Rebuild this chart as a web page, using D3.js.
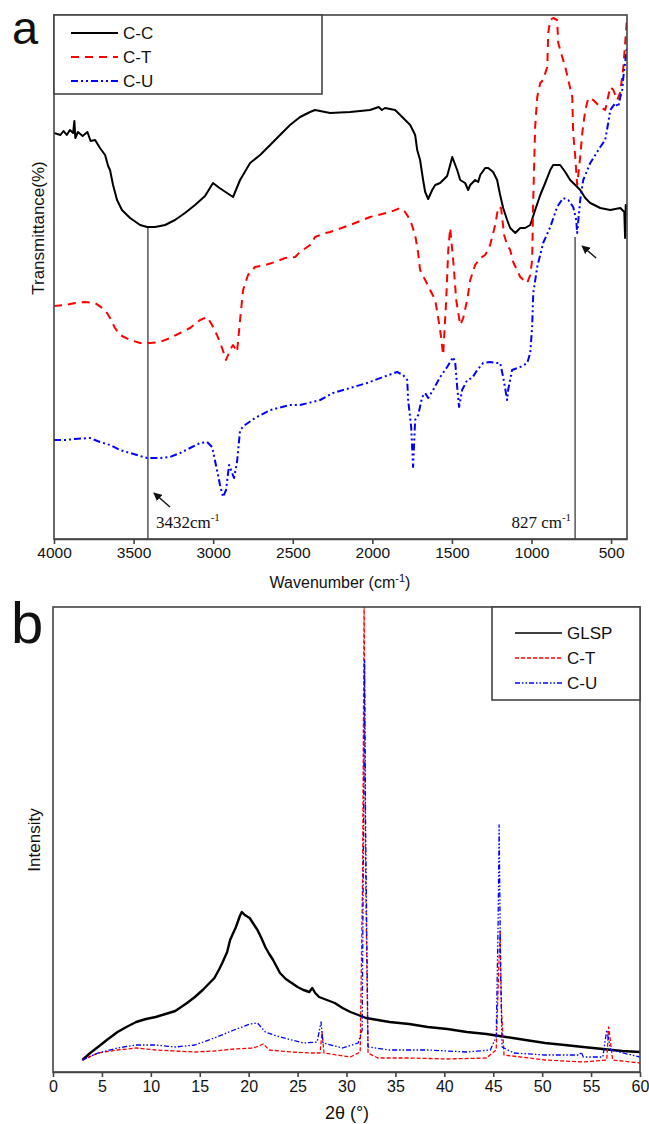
<!DOCTYPE html>
<html><head><meta charset="utf-8">
<script src="https://cdn.jsdelivr.net/npm/d3@7"></script>
<style>
html,body{margin:0;padding:0;background:#fff;}
svg{display:block;}
text{font-family:"Liberation Sans",Arial,sans-serif;fill:#111;}
.serif{font-family:"Liberation Serif","Times New Roman",serif;}
</style></head><body>
<svg id="chart" width="649" height="1124"></svg>
<script>
// ---------------- Panel a: FTIR ----------------
const ftirTicks = [4000,3500,3000,2500,2000,1500,1000,500];
const ftirCC = [[4000,81.2],[3960,80.8],[3940,81.6],[3920,80.8],[3900,81.8],[3880,81.2],[3872,83.6],[3866,80.2],[3850,81.4],[3820,80.6],[3790,81.4],[3770,79.6],[3742,79.8],[3711,78.2],[3679,76.8],[3660,74.6],[3648,73.8],[3629,70.8],[3604,67.8],[3573,65.8],[3522,64.2],[3459,62.8],[3415,62.4],[3365,62.4],[3302,62.8],[3240,63.8],[3177,65.2],[3114,66.8],[3051,68.6],[3001,71.2],[2960,70.2],[2875,68.4],[2831,71.8],[2768,75.2],[2705,76.8],[2642,78.8],[2580,80.8],[2517,82.8],[2454,84.4],[2391,85.4],[2360,85.8],[2265,85.2],[2140,85.4],[2014,85.8],[1960,86.4],[1940,85.8],[1920,86.2],[1857,85.8],[1825,84.8],[1762,82.8],[1731,80.8],[1718,77.8],[1700,75.8],[1681,71.8],[1668,69.4],[1649,68.0],[1624,69.8],[1605,70.8],[1574,71.2],[1555,71.8],[1530,72.6],[1511,74.8],[1498,76.4],[1467,73.8],[1448,71.8],[1417,71.2],[1398,69.8],[1385,70.8],[1354,71.8],[1335,71.4],[1322,72.8],[1291,74.2],[1272,74.2],[1241,73.4],[1216,71.8],[1197,68.8],[1178,66.2],[1153,63.8],[1134,62.2],[1102,61.2],[1071,62.2],[1040,62.2],[1008,62.8],[977,65.8],[945,68.8],[914,71.2],[882,73.8],[864,74.8],[820,74.8],[788,73.4],[757,71.8],[725,70.8],[694,69.8],[662,68.2],[631,67.2],[568,66.2],[505,65.8],[442,66.2],[417,65.4],[412,60.2],[408,66.8],[402,65.8]];
const ftirCT = [[4000,46.6],[3931,46.8],[3868,47.2],[3805,47.4],[3742,47.2],[3679,45.8],[3648,44.2],[3617,42.2],[3585,40.8],[3522,39.8],[3459,39.2],[3397,39.2],[3334,39.4],[3271,40.2],[3208,41.2],[3145,42.2],[3082,43.8],[3038,44.4],[3007,42.8],[2976,40.8],[2944,38.2],[2919,35.8],[2894,37.8],[2875,38.8],[2850,37.4],[2831,43.8],[2812,49.8],[2781,52.8],[2737,54.4],[2674,54.8],[2611,55.4],[2548,56.2],[2485,56.4],[2454,57.4],[2391,58.8],[2360,60.4],[2297,61.2],[2265,61.4],[2140,62.8],[2014,64.4],[1888,65.4],[1825,66.2],[1794,65.4],[1762,63.8],[1731,60.8],[1712,57.2],[1700,53.8],[1668,51.8],[1637,49.8],[1605,47.8],[1574,41.8],[1555,36.8],[1536,47.8],[1523,57.8],[1511,62.2],[1492,55.8],[1473,47.8],[1448,42.8],[1429,44.2],[1404,47.8],[1385,51.8],[1354,54.8],[1322,56.2],[1291,56.8],[1260,58.8],[1228,62.8],[1209,66.4],[1191,66.2],[1172,60.8],[1153,58.8],[1134,57.8],[1115,55.4],[1071,52.4],[1027,51.2],[1008,52.8],[996,55.8],[989,67.8],[977,82.4],[964,88.4],[945,91.2],[927,91.8],[901,94.4],[895,101.2],[882,103.8],[864,104.2],[839,103.8],[832,99.2],[807,96.4],[788,94.4],[769,91.8],[744,88.4],[738,81.2],[725,76.4],[713,70.8],[694,76.4],[681,81.2],[662,85.8],[643,88.2],[612,87.8],[568,86.4],[537,85.8],[505,90.4],[486,89.8],[461,87.8],[442,89.4],[423,94.4],[410,99.8],[401,103.8]];
const ftirCU = [[4000,19.8],[3931,19.8],[3868,20.0],[3774,20.2],[3711,19.4],[3648,18.8],[3585,17.8],[3522,17.2],[3459,16.6],[3415,16.2],[3334,16.2],[3271,16.4],[3208,17.2],[3145,18.2],[3082,19.2],[3038,19.4],[3007,18.4],[2976,13.8],[2957,10.8],[2938,8.4],[2919,9.8],[2900,14.8],[2888,13.8],[2869,12.2],[2850,15.4],[2831,21.8],[2800,22.8],[2737,24.2],[2642,25.8],[2517,26.8],[2454,26.8],[2328,27.8],[2247,29.2],[2140,30.2],[2033,31.2],[1932,32.4],[1844,33.4],[1807,32.8],[1781,31.8],[1775,27.8],[1756,22.4],[1750,18.4],[1744,14.4],[1731,23.8],[1712,24.8],[1687,28.4],[1668,29.2],[1649,28.2],[1618,29.8],[1574,32.4],[1530,34.4],[1511,35.4],[1492,36.4],[1479,35.2],[1467,30.4],[1455,26.4],[1436,29.8],[1404,31.8],[1373,32.2],[1341,33.8],[1304,35.2],[1260,35.4],[1216,35.2],[1197,35.2],[1178,32.4],[1153,27.8],[1147,29.8],[1122,33.8],[1071,34.4],[1027,35.2],[1008,37.2],[996,42.4],[989,49.2],[964,54.4],[927,59.2],[882,62.4],[839,66.4],[801,68.2],[769,67.8],[738,66.4],[719,63.8],[713,61.2],[694,67.8],[675,71.8],[631,75.2],[568,78.4],[537,79.8],[518,83.2],[505,85.8],[474,87.2],[455,86.4],[442,88.4],[430,89.8],[423,92.4],[410,95.8],[401,98.4]];
const ftirNames = ["C-C","C-T","C-U"];
const markLines = [{w:3410, top:62.4, label:"3432cm"},{w:726, top:60.4, label:"827 cm"}];
const arrowsA = [{from:[3271,6.4], to:[3372,9.2]},{from:[594,56.2], to:[682,58.6]}];

// ---------------- Panel b: XRD ----------------
const xrdTicks = [0,5,10,15,20,25,30,35,40,45,50,55,60];
const xrdGLSP = [[3,2.4],[3.8,3.8],[4.6,5.0],[5.5,6.4],[6.6,8.0],[7.5,9.0],[8.5,10.0],[9.5,10.6],[10.5,11.0],[11.5,11.6],[12.5,12.2],[13.7,13.8],[14.5,15.0],[15.3,16.4],[16.5,18.8],[17.0,20.6],[17.3,21.8],[17.8,24.0],[18.1,26.4],[18.7,29.0],[19.1,31.2],[19.3,32.0],[19.6,31.4],[20.1,30.8],[20.5,29.6],[20.9,28.4],[21.3,26.8],[21.7,25.0],[22.1,23.6],[22.5,22.4],[23.2,19.8],[23.8,18.6],[24.4,17.8],[25.0,17.0],[25.6,16.4],[26.2,16.0],[26.5,16.8],[26.8,15.8],[27.2,15.0],[28.0,14.4],[28.8,13.8],[29.6,12.8],[30.4,12.0],[31.2,11.4],[32.0,10.8],[33.2,10.4],[34.4,10.0],[36.4,9.6],[38.3,9.0],[40.3,8.6],[42.3,8.0],[44.3,7.6],[46.3,7.0],[48.3,6.4],[50.3,5.8],[52.3,5.4],[54.2,5.0],[56.2,4.6],[58.2,4.2],[60,4.0]];
const xrdCT = [[3,2.4],[4.6,3.8],[6.6,4.4],[8.5,4.8],[10.5,4.4],[14.5,4.0],[16.5,4.2],[18.5,4.6],[20.5,4.8],[21.5,5.6],[22.1,4.4],[24.4,4.0],[26.4,3.8],[27.3,3.8],[27.5,8.0],[27.7,3.8],[30.4,3.0],[31.4,4.0],[31.65,40],[31.8,95],[31.95,40],[32.2,3.8],[33.2,2.8],[36.4,2.8],[40.3,2.6],[44.3,2.8],[45.3,4.4],[45.55,20],[45.7,28.4],[45.85,12],[46.1,3.4],[50.3,2.4],[54.2,2.0],[56.6,2.4],[56.8,9.0],[57.2,2.4],[60,1.8]];
const xrdCU = [[3,2.4],[4.6,3.8],[6.6,4.8],[8.5,5.4],[10.5,5.4],[12.5,5.0],[14.5,5.4],[16.5,6.8],[18.5,8.4],[20.1,9.6],[20.9,9.8],[21.7,8.0],[23.2,7.0],[25.6,5.8],[27.0,6.0],[27.4,10.0],[27.6,5.8],[29.6,4.8],[31.2,5.8],[31.6,8.4],[31.75,50],[31.85,82.4],[31.95,50],[32.2,5.0],[34.4,4.4],[38.3,4.4],[42.3,4.0],[44.7,4.4],[45.3,7.0],[45.5,30],[45.6,49.4],[45.75,20],[45.9,5.0],[47.1,3.8],[50.3,3.4],[53.8,3.4],[54.0,4.0],[54.2,3.0],[56.2,3.0],[56.6,8.4],[57.0,4.4],[60,3.0]];
const xrdNames = ["GLSP","C-T","C-U"];

const colors = ["#000000","#ff0000","#0000ff"];
const dashA = [null,"8,6","7,3,2,3,2,3"];
const dashB = [null,"4,2","5,2,1.5,2,1.5,2"];

const svg = d3.select("#chart");
const defs = svg.append("defs");
defs.append("marker").attr("id","ah").attr("viewBox","0 0 10 10").attr("refX",9).attr("refY",5)
  .attr("markerWidth",6).attr("markerHeight",6).attr("orient","auto")
  .append("path").attr("d","M0,0 L10,5 L0,10 z").attr("fill","#111");

// ===== Panel a =====
const xA = d3.scaleLinear().domain([4000,400]).range([54,627]);
const yA = d3.scaleLinear().domain([0,104.8]).range([539,15]);
defs.append("clipPath").attr("id","clipA").append("rect").attr("x",54).attr("y",15).attr("width",573).attr("height",524);

const gA = svg.append("g");
const lineA = d3.line().x(d=>xA(d[0])).y(d=>yA(d[1]));
markLines.forEach(m=>{
  gA.append("line").attr("x1",xA(m.w)).attr("x2",xA(m.w)).attr("y1",yA(0)).attr("y2",yA(m.top))
    .attr("stroke","#555").attr("stroke-width",1.5);
});
const seriesA = [ftirCC, ftirCT, ftirCU];
const cA = gA.append("g").attr("clip-path","url(#clipA)");
seriesA.forEach((s,i)=>{
  cA.append("path").datum(s).attr("d",lineA).attr("fill","none").attr("stroke",colors[i])
    .attr("stroke-width",2).attr("stroke-dasharray",dashA[i]).attr("stroke-linejoin","round");
});
gA.append("rect").attr("x",54).attr("y",15).attr("width",573).attr("height",524)
  .attr("fill","none").attr("stroke","#444").attr("stroke-width",1.6);
const axA = gA.append("g").attr("transform","translate(0,539)")
  .call(d3.axisBottom(xA).tickValues(ftirTicks).tickFormat(d3.format("d")).tickSize(5).tickSizeOuter(0).tickPadding(3));
axA.select(".domain").attr("stroke","#444").attr("stroke-width",1.6);
axA.selectAll(".tick line").attr("stroke","#444").attr("stroke-width",1.6);
axA.selectAll(".tick text").style("font-size","15.5px").style("font-family","Liberation Sans, Arial, sans-serif").attr("fill","#111");
const tA = gA.append("text").attr("x",340).attr("y",588).attr("text-anchor","middle").style("font-size","16px");
tA.append("tspan").text("Wavenumber (cm");
tA.append("tspan").text("-1").attr("dy",-6).style("font-size","11px");
tA.append("tspan").text(")").attr("dy",6);
gA.append("text").attr("transform","translate(44,228) rotate(-90)").attr("text-anchor","middle")
  .style("font-size","17px").text("Transmittance(%)");
const l1 = gA.append("text").attr("class","serif").attr("x",xA(markLines[0].w)+8).attr("y",528).style("font-size","17px");
l1.append("tspan").text(markLines[0].label);
l1.append("tspan").text("-1").attr("dy",-7).style("font-size","11px");
const l2 = gA.append("text").attr("class","serif").attr("x",xA(markLines[1].w)-4).attr("y",528).attr("text-anchor","end").style("font-size","17px");
l2.append("tspan").text(markLines[1].label);
l2.append("tspan").text("-1").attr("dy",-7).style("font-size","11px");
arrowsA.forEach(a=>{
  gA.append("line").attr("x1",xA(a.from[0])).attr("y1",yA(a.from[1])).attr("x2",xA(a.to[0])).attr("y2",yA(a.to[1]))
    .attr("stroke","#111").attr("stroke-width",1.4).attr("marker-end","url(#ah)");
});
gA.append("rect").attr("x",54).attr("y",15).attr("width",268).attr("height",79).attr("fill","#fff").attr("stroke","#444").attr("stroke-width",1.6);
ftirNames.forEach((n,i)=>{
  const yy = 33 + i*24;
  gA.append("line").attr("x1",71).attr("x2",118).attr("y1",yy).attr("y2",yy).attr("stroke",colors[i])
    .attr("stroke-width",2).attr("stroke-dasharray",dashA[i]);
  gA.append("text").attr("x",123).attr("y",yy+6).style("font-size","17px").text(n);
});
svg.append("text").attr("x",12).attr("y",44).style("font-size","47px").text("a");

// ===== Panel b =====
const xB = d3.scaleLinear().domain([0,60]).range([53,640]);
const yB = d3.scaleLinear().domain([0,93]).range([1072,607]);
defs.append("clipPath").attr("id","clipB").append("rect").attr("x",53).attr("y",607).attr("width",587).attr("height",465);
const gB = svg.append("g");
const lineB = d3.line().x(d=>xB(d[0])).y(d=>yB(d[1]));
const cB = gB.append("g").attr("clip-path","url(#clipB)");
[xrdGLSP, xrdCT, xrdCU].forEach((s,i)=>{
  cB.append("path").datum(s).attr("d",lineB).attr("fill","none").attr("stroke",colors[i])
    .attr("stroke-width", i===0?2.4:1.3).attr("stroke-dasharray",dashB[i]).attr("stroke-linejoin","round");
});
gB.append("rect").attr("x",53).attr("y",607).attr("width",587).attr("height",465)
  .attr("fill","none").attr("stroke","#444").attr("stroke-width",1.6);
const axB = gB.append("g").attr("transform","translate(0,1072)")
  .call(d3.axisBottom(xB).tickValues(xrdTicks).tickFormat(d3.format("d")).tickSize(5).tickSizeOuter(0).tickPadding(4));
axB.select(".domain").attr("stroke","#444").attr("stroke-width",1.6);
axB.selectAll(".tick line").attr("stroke","#444").attr("stroke-width",1.6);
axB.selectAll(".tick text").style("font-size","16px").style("font-family","Liberation Sans, Arial, sans-serif").attr("fill","#111");
gB.append("text").attr("x",347).attr("y",1119).attr("text-anchor","middle").style("font-size","18px").text("2θ (°)");
gB.append("text").attr("transform","translate(40,840) rotate(-90)").attr("text-anchor","middle")
  .style("font-size","17px").text("Intensity");
gB.append("rect").attr("x",492).attr("y",607).attr("width",148).attr("height",93).attr("fill","#fff").attr("stroke","#444").attr("stroke-width",1.6);
xrdNames.forEach((n,i)=>{
  const yy = 633 + i*25;
  gB.append("line").attr("x1",515).attr("x2",562).attr("y1",yy).attr("y2",yy).attr("stroke",colors[i])
    .attr("stroke-width",1.3).attr("stroke-dasharray",dashB[i]);
  gB.append("text").attr("x",567).attr("y",yy+6).style("font-size","17px").text(n);
});
svg.append("text").attr("x",11).attr("y",643).style("font-size","58px").text("b");
</script>
</body></html>
